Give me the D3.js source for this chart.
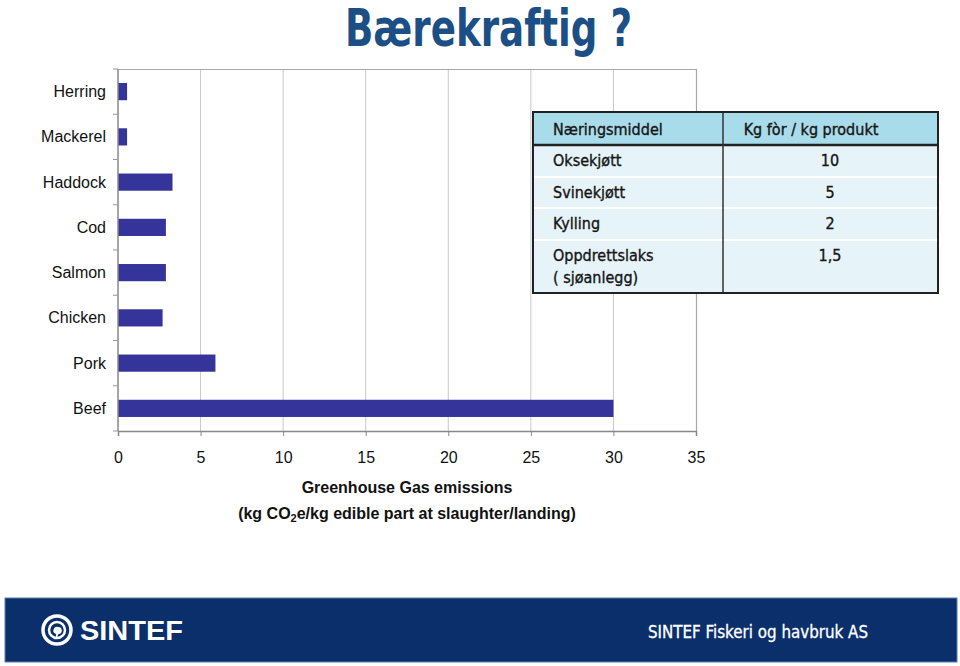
<!DOCTYPE html>
<html lang="no">
<head>
<meta charset="utf-8">
<title>Bærekraftig ?</title>
<script src="https://d3js.org/d3.v7.min.js"></script>
<style>
  body { margin: 0; background: #fff; }
  svg { display: block; }
  .cat, .tick text { font-family: 'Liberation Sans', Arial, sans-serif; font-size: 16px; fill: #111; }
  .din { font-family: 'DejaVu Sans Condensed', 'DejaVu Sans', sans-serif; }
</style>
</head>
<body>
<svg id="chart" width="960" height="666"></svg>
<script>
  // chart data
  const categories = ['Herring', 'Mackerel', 'Haddock', 'Cod', 'Salmon', 'Chicken', 'Pork', 'Beef'];
  const emissions  = [0.55, 0.55, 3.3, 2.9, 2.9, 2.7, 5.9, 30];
  const xTicks     = [0, 5, 10, 15, 20, 25, 30, 35];

  // table in the corner
  const tableHead  = ['Næringsmiddel', 'Kg fòr / kg produkt'];
  const tableFoods = [['Oksekjøtt'], ['Svinekjøtt'], ['Kylling'], ['Oppdrettslaks', '( sjøanlegg)']];
  const tableFeed  = ['10', '5', '2', '1,5'];

  const svg = d3.select('#chart');

  // plot area
  const pLeft = 118, pRight = 696, pTop = 69, pBottom = 431;

  const x = d3.scaleLinear().domain([0, 35]).range([pLeft, pRight]);
  const y = d3.scaleBand().domain(categories).range([pTop, pBottom]).paddingInner(0.62).paddingOuter(0.31);
  const band = d3.scaleBand().domain(categories).range([pTop, pBottom]);

  // title
  svg.append('text')
    .attr('class', 'din')
    .attr('x', 345).attr('y', 46)
    .attr('textLength', 287).attr('lengthAdjust', 'spacingAndGlyphs')
    .style('font-size', '51px').style('font-weight', 'bold')
    .style('fill', '#1c4f86')
    .text('Bærekraftig ?');

  // grid
  svg.append('g').selectAll('line')
    .data(xTicks.slice(1, -1))
    .join('line')
    .attr('x1', d => x(d)).attr('x2', d => x(d))
    .attr('y1', pTop).attr('y2', pBottom)
    .style('stroke', '#c8c8c8').style('stroke-width', 1);

  // frame top + right
  svg.append('path')
    .attr('d', `M${pLeft},${pTop + 0.5}H${pRight + 0.5}V${pBottom}`)
    .style('fill', 'none').style('stroke', '#a8a8a8').style('stroke-width', 1.2);

  // bars
  svg.append('g').selectAll('rect')
    .data(categories)
    .join('rect')
    .attr('x', x(0))
    .attr('y', d => y(d))
    .attr('width', (d, i) => x(emissions[i]) - x(0))
    .attr('height', y.bandwidth())
    .style('fill', '#34349a');

  // x axis
  const xAxis = svg.append('g')
    .attr('transform', `translate(0,${pBottom})`)
    .call(d3.axisBottom(x).tickValues(xTicks).tickSize(5).tickPadding(16));
  xAxis.select('.domain').style('stroke', '#888').style('stroke-width', 1.5);
  xAxis.selectAll('.tick line').style('stroke', '#888');

  // y axis (ticks at band boundaries)
  const yEdges = categories.map(c => band(c)).concat([pBottom]);
  svg.append('line')
    .attr('x1', pLeft).attr('x2', pLeft).attr('y1', pTop).attr('y2', pBottom)
    .style('stroke', '#888').style('stroke-width', 1.5);
  svg.append('g').selectAll('line')
    .data(yEdges)
    .join('line')
    .attr('x1', pLeft - 5).attr('x2', pLeft)
    .attr('y1', d => d).attr('y2', d => d)
    .style('stroke', '#999');

  svg.append('g').selectAll('text')
    .data(categories)
    .join('text')
    .attr('class', 'cat')
    .attr('x', 106)
    .attr('y', d => band(d) + band.bandwidth() / 2)
    .attr('dy', '0.35em')
    .attr('text-anchor', 'end')
    .text(d => d);

  // axis title
  const mid = (pLeft + pRight) / 2;
  const axTitle = svg.append('g')
    .style('font-family', "'Liberation Sans', Arial, sans-serif")
    .style('font-size', '16px').style('font-weight', 'bold').style('fill', '#111')
    .attr('text-anchor', 'middle');
  axTitle.append('text').attr('x', mid).attr('y', 493).text('Greenhouse Gas emissions');
  const t2 = axTitle.append('text').attr('x', mid).attr('y', 519);
  t2.append('tspan').text('(kg CO');
  t2.append('tspan').attr('dy', 3).style('font-size', '11px').text('2');
  t2.append('tspan').attr('dy', -3).text('e/kg edible part at slaughter/landing)');

  // table
  const tx = 533, tw = 405, colSplit = 723;
  const rowY = [112, 145, 177, 208, 240, 293];
  const table = svg.append('g').attr('class', 'din')
    .style('font-size', '16px').style('fill', '#151515')
    .style('stroke', '#151515').style('stroke-width', 0.35);

  table.append('rect')
    .attr('x', tx).attr('y', rowY[0]).attr('width', tw).attr('height', rowY[1] - rowY[0])
    .style('fill', '#a9dcea').style('stroke', 'none');
  table.append('rect')
    .attr('x', tx).attr('y', rowY[1]).attr('width', tw).attr('height', rowY[5] - rowY[1])
    .style('fill', '#e6f4f9').style('stroke', 'none');

  table.selectAll('line.row')
    .data(rowY.slice(2, 5))
    .join('line')
    .attr('class', 'row')
    .attr('x1', tx).attr('x2', tx + tw)
    .attr('y1', d => d).attr('y2', d => d)
    .style('stroke', '#fff').style('stroke-width', 2);

  table.append('line')
    .attr('x1', tx).attr('x2', tx + tw).attr('y1', rowY[1]).attr('y2', rowY[1])
    .style('stroke', '#222').style('stroke-width', 2.5);
  table.append('line')
    .attr('x1', colSplit).attr('x2', colSplit).attr('y1', rowY[0]).attr('y2', rowY[5])
    .style('stroke', '#333').style('stroke-width', 1.5);
  table.append('rect')
    .attr('x', tx).attr('y', rowY[0]).attr('width', tw).attr('height', rowY[5] - rowY[0])
    .style('fill', 'none').style('stroke', '#222').style('stroke-width', 2);

  table.append('text').attr('x', 553).attr('y', 135).text(tableHead[0]);
  table.append('text').attr('x', 811).attr('y', 135).attr('text-anchor', 'middle').text(tableHead[1]);

  tableFoods.forEach((lines, i) => {
    lines.forEach((s, j) => {
      table.append('text')
        .attr('x', 553).attr('y', rowY[i + 1] + 21 + j * 22)
        .text(s);
    });
    table.append('text')
      .attr('x', 830).attr('y', rowY[i + 1] + 21)
      .attr('text-anchor', 'middle')
      .text(tableFeed[i]);
  });

  // footer band
  const foot = svg.append('g');
  foot.append('rect')
    .attr('x', 5).attr('y', 598).attr('width', 952).attr('height', 64)
    .style('fill', '#0b2f6a').style('stroke', '#5b7fa8').style('stroke-width', 1);

  // SINTEF logo
  const logo = foot.append('g').attr('transform', 'translate(57,630)');
  logo.append('circle').attr('r', 14).style('fill', 'none').style('stroke', '#fff').style('stroke-width', 3.5);
  logo.append('circle').attr('r', 8).style('fill', 'none').style('stroke', '#fff').style('stroke-width', 2.5);
  logo.append('path')
    .attr('d', 'M1,-3 a3.5,3.5 0 1,1 0.5,7 q-1,4 -4,6 q2,-3 1.5,-6 a3.5,3.5 0 0,1 2,-7z')
    .style('fill', '#fff');
  foot.append('text')
    .attr('x', 80).attr('y', 640)
    .attr('textLength', 103).attr('lengthAdjust', 'spacingAndGlyphs')
    .style('font-family', "'Liberation Sans', Arial, sans-serif")
    .style('font-size', '27px').style('font-weight', 'bold').style('fill', '#fff')
    .text('SINTEF');
  foot.append('text')
    .attr('class', 'din')
    .attr('x', 648).attr('y', 638)
    .attr('textLength', 220).attr('lengthAdjust', 'spacingAndGlyphs')
    .style('font-size', '17px').style('fill', '#fff')
    .style('stroke', '#fff').style('stroke-width', 0.3)
    .text('SINTEF Fiskeri og havbruk AS');
</script>
</body>
</html>
